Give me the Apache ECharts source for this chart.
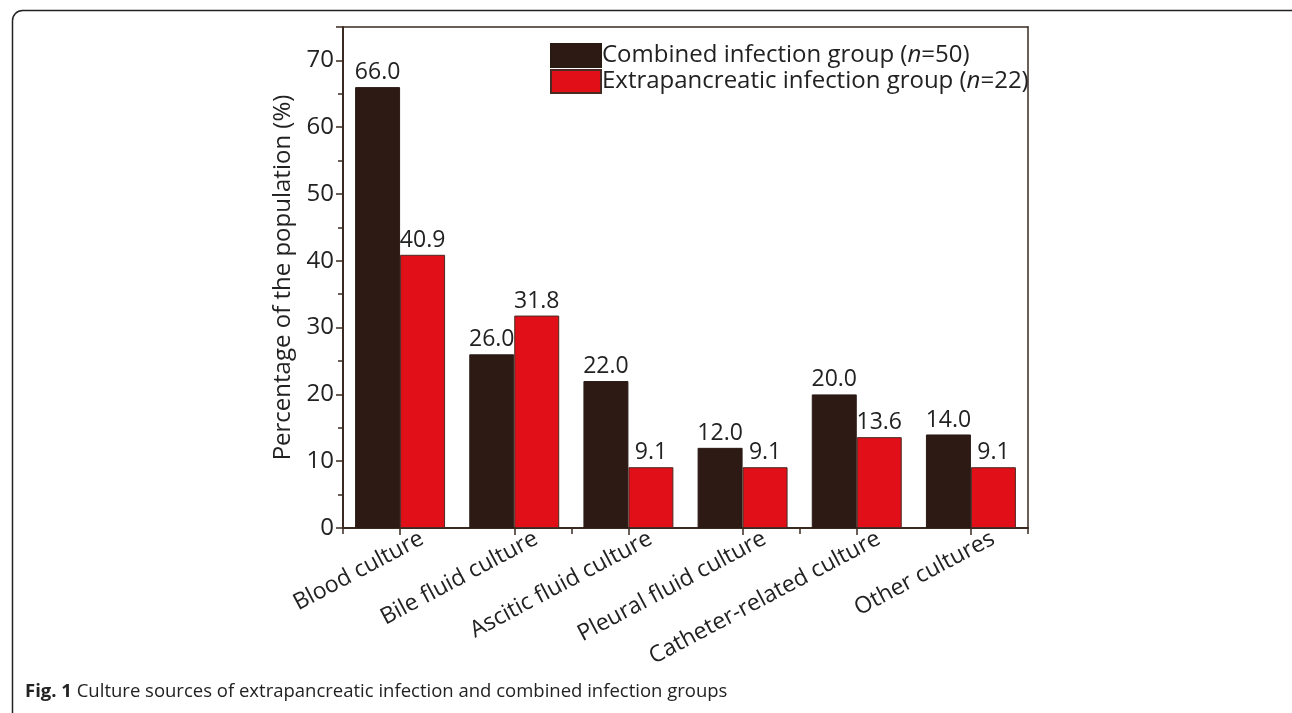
<!DOCTYPE html>
<html>
<head>
<meta charset="utf-8">
<script src="https://cdn.jsdelivr.net/npm/echarts@6/dist/echarts.min.js"></script>
<style>
html,body{margin:0;padding:0;background:#fff;}
#c{width:1292px;height:713px;}
</style>
</head>
<body>
<div id="c"></div>
<script>
const categories = ['Blood culture','Bile fluid culture','Ascitic fluid culture','Pleural fluid culture','Catheter-related culture','Other cultures'];
const combinedName = 'Combined infection group (n=50)';
const extraName = 'Extrapancreatic infection group (n=22)';
const combinedValues = [66.0, 26.0, 22.0, 12.0, 20.0, 14.0];
const extraValues = [40.9, 31.8, 9.1, 9.1, 13.6, 9.1];
const yTicks = [0, 10, 20, 30, 40, 50, 60, 70];

const FONT = '"Open Sans", "Noto Sans", sans-serif';
const AX = '#3a2a22';
const TXT = '#222';

const chart = echarts.init(document.getElementById('c'), null, {renderer:'canvas'});
chart.setOption({
  animation:false,
  backgroundColor:'#fff',
  textStyle:{fontFamily:FONT},
  grid:{left:343, top:27, right:264, bottom:185, containLabel:false},
  legend:{
    orient:'vertical', left:545, top:38, itemWidth:50, itemHeight:23, itemGap:1,
    icon:'rect',
    textStyle:{fontFamily:FONT, fontSize:24, color:TXT, padding:[0,0,0,-4],
      rich:{i:{fontFamily:FONT, fontSize:24, color:TXT, fontStyle:'italic'}}},
    formatter:function(n){ return n.replace('(n=', '({i|n}='); },
    data:[combinedName, extraName]
  },
  xAxis:[
    {type:'category', data:categories, position:'bottom',
     axisLine:{show:true, lineStyle:{color:AX, width:2}},
     axisTick:{show:true, alignWithLabel:true, length:7, lineStyle:{color:AX, width:1.5}},
     axisLabel:{interval:0, rotate:28, fontFamily:FONT, fontSize:23, color:TXT, margin:21,
       padding:[0,-25,0,0]}},
    {type:'category', data:categories, position:'bottom', gridIndex:0,
     axisLine:{show:false},
     axisTick:{show:true, alignWithLabel:false, length:6, lineStyle:{color:AX, width:1.5}},
     axisLabel:{show:false}},
    {type:'category', data:categories, position:'top',
     axisLine:{show:true, lineStyle:{color:AX, width:1.5}},
     axisTick:{show:false}, axisLabel:{show:false}}
  ],
  yAxis:[
    {type:'value', min:0, max:75, interval:10,
     name:'Percentage of the population (%)', nameLocation:'middle', nameGap:44,
     nameTextStyle:{fontFamily:FONT, fontSize:24, color:TXT},
     axisLine:{show:true, lineStyle:{color:AX, width:2}},
     axisTick:{show:true, length:7, lineStyle:{color:AX, width:1.5}},
     minorTick:{show:true, splitNumber:2, length:5, lineStyle:{color:AX, width:1.5}},
     splitLine:{show:false},
     axisLabel:{fontFamily:FONT, fontSize:24, color:TXT, margin:9,
       formatter:function(v){ return yTicks.indexOf(v) >= 0 ? String(v) : ''; }}},
    {type:'value', min:0, max:75, position:'right',
     axisLine:{show:true, lineStyle:{color:AX, width:1.5}},
     axisTick:{show:false}, axisLabel:{show:false}, splitLine:{show:false}}
  ],
  series:[
    {name:combinedName, type:'bar', data:combinedValues, barWidth:'39.4%', barGap:'0%',
     itemStyle:{color:'#2d1a14', borderColor:'#2a1a14', borderWidth:1},
     label:{show:true, position:'top', distance:3, fontFamily:FONT, fontSize:23, color:TXT,
       formatter:function(p){ return p.value.toFixed(1); }}},
    {name:extraName, type:'bar', data:extraValues, barWidth:'39.4%', barGap:'0%',
     itemStyle:{color:'#e00f18', borderColor:'#4a2a22', borderWidth:1},
     label:{show:true, position:'top', distance:3, fontFamily:FONT, fontSize:23, color:TXT,
       formatter:function(p){ return p.value.toFixed(1); }}}
  ],
  graphic:[
    {type:'rect', left:10, top:8, shape:{width:1290, height:712, r:10},
     style:{fill:null, stroke:'#222', lineWidth:1.5}, silent:true},
    {type:'text', left:25, top:682,
     style:{text:'{b|Fig. 1} Culture sources of extrapancreatic infection and combined infection groups',
       fontFamily:FONT, fontSize:18.5, fill:'#222',
       rich:{b:{fontFamily:FONT, fontSize:18.5, fontWeight:'bold', fill:'#222'}}}}
  ]
});
</script>
</body>
</html>
